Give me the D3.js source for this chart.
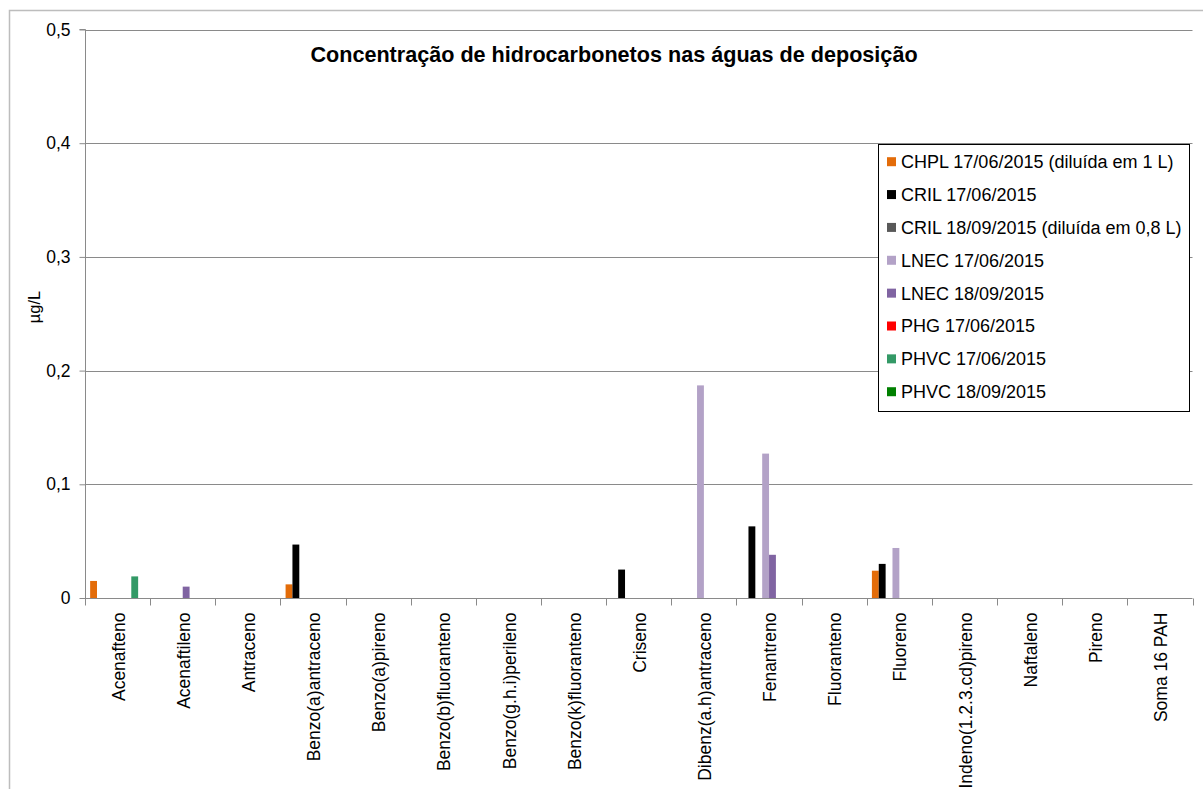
<!DOCTYPE html>
<html>
<head>
<meta charset="utf-8">
<script src="https://cdn.jsdelivr.net/npm/d3@7"></script>
<style>
	body { margin: 0; background: #fff; }
	svg { display: block; font-family: "Liberation Sans", Arial, sans-serif; }
</style>
</head>
<body>
<svg></svg>
<script>
// categories (x axis)
var categories = ["Acenafteno", "Acenaftileno", "Antraceno", "Benzo(a)antraceno", "Benzo(a)pireno",
	"Benzo(b)fluoranteno", "Benzo(g.h.i)perileno", "Benzo(k)fluoranteno", "Criseno",
	"Dibenz(a.h)antraceno", "Fenantreno", "Fluoranteno", "Fluoreno", "Indeno(1.2.3.cd)pireno",
	"Naftaleno", "Pireno", "Soma 16 PAH"];

var seriesNames = ["CHPL 17/06/2015 (diluída em 1 L)", "CRIL 17/06/2015", "CRIL 18/09/2015 (diluída em 0,8 L)",
	"LNEC 17/06/2015", "LNEC 18/09/2015", "PHG 17/06/2015", "PHVC 17/06/2015", "PHVC 18/09/2015"];
var seriesColors = ["#e36c09", "#000000", "#595959", "#b3a2c7", "#8064a2", "#ff0000", "#339966", "#008000"];

// values in µg/L, one per category (null = no value)
var chpl17 = [0.015, null, null, 0.012, null, null, null, null, null, null, null, null, 0.024, null, null, null, null];
var cril17 = [null, null, null, 0.047, null, null, null, null, 0.025, null, 0.063, null, 0.030, null, null, null, null];
var cril18 = [null, null, null, null, null, null, null, null, null, null, null, null, null, null, null, null, null];
var lnec17 = [null, null, null, null, null, null, null, null, null, 0.187, 0.127, null, 0.044, null, null, null, null];
var lnec18 = [null, 0.010, null, null, null, null, null, null, null, null, 0.038, null, null, null, null, null, null];
var phg17 = [null, null, null, null, null, null, null, null, null, null, null, null, null, null, null, null, null];
var phvc17 = [0.019, null, null, null, null, null, null, null, null, null, null, null, null, null, null, null, null];
var phvc18 = [null, null, null, null, null, null, null, null, null, null, null, null, null, null, null, null, null];
var seriesValues = [chpl17, cril17, cril18, lnec17, lnec18, phg17, phvc17, phvc18];

var yTicks = [0, 0.1, 0.2, 0.3, 0.4, 0.5];
var yTickLabels = ["0", "0,1", "0,2", "0,3", "0,4", "0,5"];

var W = 1203, H = 789;
var plot = { left: 85, right: 1192.5, top: 29.5, bottom: 598 };

var svg = d3.select("svg")
	.attr("width", W)
	.attr("height", H);

// outer chart border
svg.append("rect")
	.attr("x", 9.5)
	.attr("y", 10.5)
	.attr("width", W + 20)
	.attr("height", H + 20)
	.attr("fill", "#fff")
	.attr("stroke", "#bdbdbd")
	.attr("stroke-width", 1.5);

var x0 = d3.scaleBand()
	.domain(categories)
	.range([plot.left, plot.right])
	.paddingInner(0)
	.paddingOuter(0);

var bw = x0.bandwidth();
// gap width 150% -> 8 bars + 1.5 bar widths of gap
var x1 = d3.scaleBand()
	.domain(d3.range(seriesNames.length))
	.range([bw * 0.75 / 9.5, bw * 8.75 / 9.5]);

var y = d3.scaleLinear()
	.domain([0, 0.5])
	.range([plot.bottom, plot.top]);

// gridlines
svg.append("g")
	.selectAll("line")
	.data(yTicks.slice(1))
	.enter()
	.append("line")
	.attr("x1", plot.left)
	.attr("x2", plot.right)
	.attr("y1", function(d) { return Math.round(y(d)) + 0.5; })
	.attr("y2", function(d) { return Math.round(y(d)) + 0.5; })
	.attr("stroke", "#8a8a8a")
	.attr("stroke-width", 1);

// y axis
var yAxis = svg.append("g")
	.attr("transform", "translate(" + (plot.left + 0.5) + ",0)")
	.call(d3.axisLeft(y)
		.tickValues(yTicks)
		.tickSize(6)
		.tickPadding(9)
		.tickFormat(function(d, i) { return yTickLabels[i]; }));
yAxis.select(".domain").attr("stroke", "#8a8a8a").attr("d", "M-6," + (plot.top) + "H0V" + (plot.bottom + 6));
yAxis.selectAll(".tick line").attr("stroke", "#8a8a8a");
yAxis.selectAll(".tick text")
	.attr("fill", "#000")
	.style("font-size", "17.5px")
	.style("font-family", "'Liberation Sans', Arial, sans-serif");

// x axis
var xAxis = svg.append("g")
	.attr("transform", "translate(0," + (Math.round(plot.bottom) + 0.5) + ")");
xAxis.append("line")
	.attr("x1", plot.left)
	.attr("x2", plot.right)
	.attr("stroke", "#8a8a8a");
xAxis.selectAll(".xtick")
	.data(categories.concat(["end"]))
	.enter()
	.append("line")
	.attr("class", "xtick")
	.attr("x1", function(d, i) { return Math.round(plot.left + i * bw) + 0.5; })
	.attr("x2", function(d, i) { return Math.round(plot.left + i * bw) + 0.5; })
	.attr("y1", 0)
	.attr("y2", 7)
	.attr("stroke", "#8a8a8a");
xAxis.selectAll(".xlabel")
	.data(categories)
	.enter()
	.append("text")
	.attr("class", "xlabel")
	.attr("transform", function(d) {
		return "translate(" + (x0(d) + bw / 2 + 1) + ",14) rotate(-90)";
	})
	.attr("dy", "0.35em")
	.attr("text-anchor", "end")
	.style("font-size", "17.5px")
	.attr("fill", "#000")
	.text(function(d) { return d; });

// bars
var barData = [];
seriesValues.forEach(function(vals, s) {
	vals.forEach(function(v, c) {
		if (v !== null) barData.push({ s: s, cat: categories[c], v: v });
	});
});

svg.append("g")
	.selectAll("rect")
	.data(barData)
	.enter()
	.append("rect")
	.attr("x", function(d) { return x0(d.cat) + x1(d.s); })
	.attr("width", x1.bandwidth())
	.attr("y", function(d) { return y(d.v); })
	.attr("height", function(d) { return y(0) - y(d.v); })
	.attr("fill", function(d) { return seriesColors[d.s]; });

// title
svg.append("text")
	.attr("x", 614)
	.attr("y", 62)
	.attr("text-anchor", "middle")
	.style("font-size", "21.6px")
	.style("font-weight", "bold")
	.text("Concentração de hidrocarbonetos nas águas de deposição");

// y axis label
svg.append("text")
	.attr("transform", "translate(34,307) rotate(-90)")
	.attr("text-anchor", "middle")
	.attr("dy", "0.35em")
	.style("font-size", "16.5px")
	.text("µg/L");

// legend
var legend = svg.append("g");
legend.append("rect")
	.attr("x", 878.5)
	.attr("y", 144.5)
	.attr("width", 311)
	.attr("height", 267)
	.attr("fill", "#fff")
	.attr("stroke", "#000")
	.attr("stroke-width", 1);

var items = legend.selectAll(".item")
	.data(seriesNames)
	.enter()
	.append("g")
	.attr("class", "item")
	.attr("transform", function(d, i) { return "translate(887," + (161.7 + i * 32.86) + ")"; });
items.append("rect")
	.attr("x", 0)
	.attr("y", -4.5)
	.attr("width", 9)
	.attr("height", 9)
	.attr("fill", function(d, i) { return seriesColors[i]; });
items.append("text")
	.attr("x", 14)
	.attr("dy", "0.36em")
	.style("font-size", "18px")
	.text(function(d) { return d; });
</script>
</body>
</html>
